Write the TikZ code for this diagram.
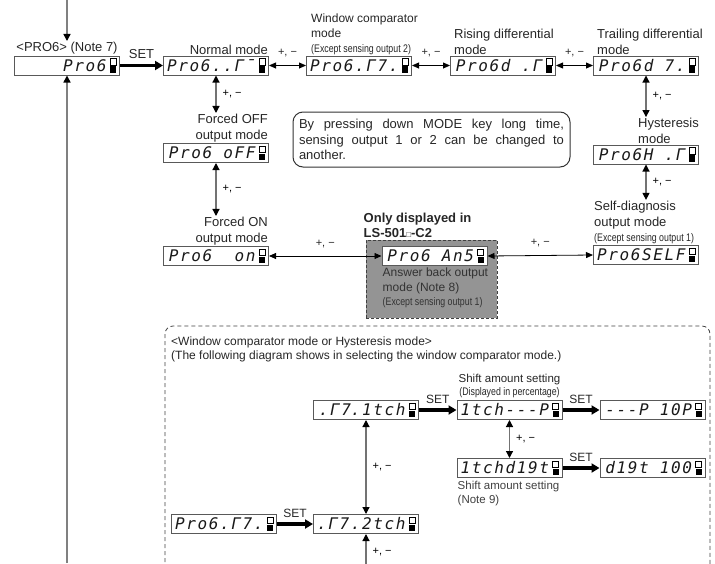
\documentclass[tikz,border=0pt]{standalone}
\usepackage{fontspec}
\setmainfont{Liberation Sans}
\newfontfamily\lcdfont{DejaVu Sans Mono}[LetterSpace=10]
\usetikzlibrary{arrows.meta,positioning}
\newcommand\lcd[1]{\makebox[90pt][r]{\lcdfont\itshape #1}\hspace*{11pt}}
\newcommand\cond[1]{{\fontsize{11}{13}\selectfont\scalebox{0.8}[1]{#1}}}

\begin{document}
\begin{tikzpicture}[x=1pt, y=-1pt,
    every node/.style={font=\fontsize{13}{15.5}\selectfont, inner sep=1pt, text=black!85},
    lcd/.style={draw=black!65, line width=1pt, fill=white, minimum height=19pt,
                inner xsep=2pt, inner ysep=0pt, text=black!90, font=\fontsize{16}{16}\selectfont,
      path picture={
        \draw[black, line width=0.5pt, fill=white]
          ([xshift=-9.5pt,yshift=7pt]path picture bounding box.east) rectangle
          ([xshift=-3.5pt,yshift=0.5pt]path picture bounding box.east);
        \fill[black] ([xshift=-9.5pt,yshift=-0.5pt]path picture bounding box.east) rectangle
          ([xshift=-3.5pt,yshift=-7pt]path picture bounding box.east);}},
    setarr/.style={line width=3.5pt, -{Triangle[length=8pt,width=9pt]}},
    pm/.style={line width=0.8pt, {Triangle[length=7pt,width=6pt]}-{Triangle[length=7pt,width=6pt]}},
    pmv/.style={draw=black!55, line width=1.2pt,
                {Triangle[length=7pt,width=7pt,color=black]}-{Triangle[length=7pt,width=7pt,color=black]}},
    feed/.style={draw=black!50, line width=1.5pt, -{Triangle[length=7pt,width=7pt,color=black]}},
    pmlbl/.style={font=\fontsize{11}{11}\selectfont},
    lower/.style={font=\fontsize{12}{14.5}\selectfont}
  ]
  \useasboundingbox (0,0) rectangle (715,563);
  \clip (0,0) rectangle (715,563);

  \node[lcd] (pro6) at (67,65.5) {\lcd{Pro6}};
  \node[lcd] (normal) at (216,65.5) {\lcd{Pro6..Γ¯}};
  \node[lcd] (window) at (359,65.5) {\lcd{Pro6.Γ7.}};
  \node[lcd] (rising) at (503,65.5) {\lcd{Pro6d .Γ}};
  \node[lcd] (trailing) at (646,65.5) {\lcd{Pro6d 7.}};
  \node[lcd] (off) at (216,153) {\lcd{Pro6 oFF}};
  \node[lcd] (on) at (216,256) {\lcd{Pro6~~on}};
  \node[lcd] (hyst) at (646,154.5) {\lcd{Pro6H .Γ}};
  \node[lcd] (self) at (646,255) {\lcd{Pro6SELF}};

  \node[anchor=south] (p6lab) at (pro6.north) {<PRO6> (Note 7)};
  \node[anchor=south east] (normlab) at (normal.north east) {Normal mode};
  \node[anchor=south west, align=left, font=\fontsize{12}{15}\selectfont] (winlab) at ([xshift=4pt]window.north west)
    {Window comparator\\mode\\\cond{(Except sensing output 2)}};
  \node[anchor=south west, align=left] (rislab) at ([xshift=3pt]rising.north west)
    {Rising differential\\mode};
  \node[anchor=south west, align=left] (trlab) at ([xshift=3pt]trailing.north west)
    {Trailing differential\\mode};
  \node[anchor=south east, align=right] (offlab) at (off.north east) {Forced OFF\\output mode};
  \node[anchor=south east, align=right] (onlab) at (on.north east) {Forced ON\\output mode};
  \node[anchor=south west, align=left] (hystlab) at ([xshift=-9pt]hyst.north) {Hysteresis\\mode};
  \node[anchor=south west, align=left] (selflab) at (self.north west)
    {Self-diagnosis\\output mode\\\cond{(Except sensing output 1)}};

  \node[draw=black!75, line width=1pt, fill=black!42, dash pattern=on 3pt off 2pt,
        minimum width=131pt, minimum height=78pt] (ansbg) at (431.5,279) {};
  \node[lcd] (ans) at (434.5,256) {\lcd{Pro6 An5}};
  \node[anchor=south west, align=left, font=\fontsize{13}{15}\selectfont\bfseries]
    (onlylab) at ([xshift=-3pt,yshift=1pt]ansbg.north west)
    {Only displayed in\\LS-501{\fontsize{8}{8}\selectfont □}-C2};
  \node[anchor=north west, align=left, lower, text=black!80] (anslab) at ([yshift=-1pt]ans.south west)
    {Answer back output\\mode (Note 8)\\\cond{(Except sensing output 1)}};

  \node[draw=black!80, line width=1pt, rounded corners=10pt, text width=265pt, align=justify,
        minimum height=55pt, inner xsep=6pt] (note) at (431.5,139.5)
    {By pressing down MODE key long time,\linebreak sensing output 1 or 2 can be changed to\linebreak another.};

  \draw[setarr] (pro6.east) -- (normal.west) node[midway, above=4pt] {SET};
  \draw[pm] (normal.east) -- (window.west) node[midway, above=7pt, pmlbl] {+, −};
  \draw[pm] (window.east) -- (rising.west) node[midway, above=7pt, pmlbl] {+, −};
  \draw[pm] (rising.east) -- (trailing.west) node[midway, above=7pt, pmlbl] {+, −};
  \draw[pm] (on.east) -- (ans.west) node[midway, above=7pt, pmlbl] {+, −};
  \draw[pm] (ans.east) -- (self.west) node[midway, above=7pt, pmlbl] {+, −};
  \draw[pmv] (normal.south) -- (normal.south |- offlab.north) node[midway, right=5pt, pmlbl, text=black] {+, −};
  \draw[pmv] (off.south) -- (off.south |- onlab.north) node[midway, right=5pt, pmlbl, text=black] {+, −};
  \draw[pmv] (trailing.south) -- (trailing.south |- hystlab.north) node[midway, right=5pt, pmlbl, text=black] {+, −};
  \draw[pmv] (hyst.south) -- (hyst.south |- selflab.north) node[midway, right=5pt, pmlbl, text=black] {+, −};

  \coordinate (topin) at (67,0);
  \coordinate (botin) at (67,563);
  \draw[feed] (topin) -- (p6lab.north);
  \draw[feed] (botin) -- (pro6.south);

  \draw[black!75, line width=0.8pt, dash pattern=on 4pt off 3pt, rounded corners=8pt]
    (165,326) rectangle (710,600);
  \node[anchor=west, align=left, lower] (wtitle) at (170,349.5)
    {<Window comparator mode or Hysteresis mode>\\(The following diagram shows in selecting the window comparator mode.)};

  \node[lcd] (w1) at (366,410) {\lcd{.Γ7\rlap{.}~1tch}};
  \node[lcd] (shiftp) at (509.5,410) {\lcd{1tch---P}};
  \node[lcd] (pct) at (652.5,410) {\lcd{---P 10P}};
  \node[lcd] (shiftd) at (509.5,468) {\lcd{1tchd19t}};
  \node[lcd] (digit) at (652.5,468) {\lcd{d19t 100}};
  \node[lcd] (winmode) at (224,524) {\lcd{Pro6.Γ7.}};
  \node[lcd] (w2) at (366,524) {\lcd{.Γ7.2tch}};
  \coordinate (botout) at (366,571);

  \node[anchor=south, align=center, font=\fontsize{11.5}{13}\selectfont] (shlab) at ([yshift=1pt]shiftp.north)
    {Shift amount setting\\\cond{(Displayed in percentage)}};
  \node[anchor=north west, align=left, font=\fontsize{11.5}{14}\selectfont, text=black!75] (sdlab)
    at ([yshift=-2pt]shiftd.south west) {Shift amount setting\\(Note 9)};

  \draw[setarr] (w1.east) -- (shiftp.west) node[midway, above=4pt, lower] {SET};
  \draw[setarr] (shiftp.east) -- (pct.west) node[midway, above=4pt, lower] {SET};
  \draw[setarr] (shiftd.east) -- (digit.west) node[midway, above=4pt, lower] {SET};
  \draw[setarr] (winmode.east) -- (w2.west) node[midway, above=4pt, lower] {SET};
  \draw[pmv] (w1.south) -- (w2.north) node[midway, right=5pt, pmlbl, text=black] {+, −};
  \draw[pmv] (shiftp.south) -- (shiftd.north) node[midway, right=5pt, pmlbl, text=black] {+, −};
  \draw[pmv] (w2.south) -- (botout) node[midway, right=5pt, pmlbl, text=black] {+, −};
\end{tikzpicture}
\end{document}
